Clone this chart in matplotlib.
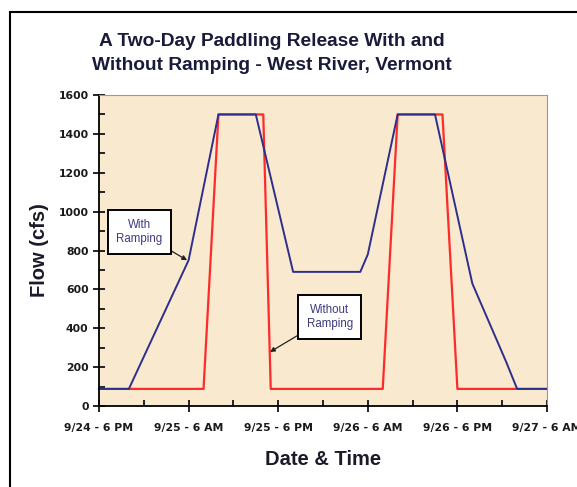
import numpy as np
import matplotlib.pyplot as plt
from matplotlib.patches import Rectangle

plt.rcParams['font.family'] = ['Liberation Sans', 'DejaVu Sans']

# hours after 9/24 6 PM
ramp_hours = [0, 4, 12, 16, 21, 26, 35, 36, 40, 45, 50, 54.5, 56, 60]
ramp_flow = [88, 88, 750, 1500, 1500, 690, 690, 780, 1500, 1500, 630, 230, 88, 88]

noramp_hours = [0, 14, 16, 22, 23, 38, 40, 46, 48, 60]
noramp_flow = [88, 88, 1500, 1500, 88, 88, 1500, 1500, 88, 88]

tick_labels = ["9/24 - 6 PM", "9/25 - 6 AM", "9/25 - 6 PM",
               "9/26 - 6 AM", "9/26 - 6 PM", "9/27 - 6 AM"]

fig = plt.figure(figsize=(5.77, 4.87), dpi=100)
fig.patch.set_facecolor("white")
# outer frame of the chart
fig.patches.append(Rectangle((10 / 577, -0.02), 1.0, 1 - 12 / 487 + 0.02,
                             transform=fig.transFigure, fill=False,
                             edgecolor="black", linewidth=1.5))

ax = fig.add_axes([99 / 577, 1 - 406 / 487, 448 / 577, 311 / 487])
ax.set_facecolor("#F9E9CE")

ax.plot(noramp_hours, noramp_flow, color="#FF2A2A", lw=1.6, clip_on=False)
ax.plot(ramp_hours, ramp_flow, color="#2E2F8C", lw=1.4, clip_on=False)

ax.set_xlim(0, 60)
ax.set_ylim(0, 1600)
ax.set_xticks(np.arange(0, 61, 12))
ax.set_xticks(np.arange(6, 60, 12), minor=True)
ax.set_xticklabels(tick_labels)
ax.set_yticks(np.arange(0, 1601, 200))
ax.set_yticks(np.arange(100, 1600, 200), minor=True)

for lab in ax.get_xticklabels() + ax.get_yticklabels():
    lab.set_fontweight("bold")
    lab.set_family("DejaVu Sans")
    lab.set_color("#1a1a1a")
ax.tick_params(axis="x", which="major", direction="inout", length=9, width=1.2,
               labelsize=7.8, pad=8)
ax.tick_params(axis="y", which="major", direction="inout", length=9, width=1.2,
               labelsize=7.8, pad=3)
ax.tick_params(which="minor", direction="in", length=4, width=1.2)

for side in ["top", "right"]:
    ax.spines[side].set_color("#999999")
    ax.spines[side].set_linewidth(0.8)
for side in ["left", "bottom"]:
    ax.spines[side].set_linewidth(1.3)

ax.set_xlabel("Date & Time", fontsize=14.5, fontweight="bold", color="#1a1a2a",
              labelpad=12)
ax.set_ylabel("Flow (cfs)", fontsize=14.5, fontweight="bold", color="#1a1a2a",
              labelpad=7)

fig.text(272 / 577, 1 - 41 / 487, "A Two-Day Paddling Release With and",
         ha="center", va="center", fontsize=13.8, fontweight="bold", color="#1a1a3a")
fig.text(272 / 577, 1 - 65 / 487, "Without Ramping - West River, Vermont",
         ha="center", va="center", fontsize=13.8, fontweight="bold", color="#1a1a3a")

box = dict(boxstyle="square,pad=0.75", facecolor="white", edgecolor="black", lw=1.4)
ax.annotate("With\nRamping", xy=(11.8, 750), xytext=(5.4, 895),
            ha="center", va="center", fontsize=8.3, color="#3f3a80",
            linespacing=1.25,
            bbox=box, arrowprops=dict(arrowstyle="-|>", color="#222222", lw=0.9,
                                      mutation_scale=7, shrinkA=0, shrinkB=0,
                                      relpos=(0.98, 0.0)))
ax.annotate("Without\nRamping", xy=(22.9, 278), xytext=(30.9, 458),
            ha="center", va="center", fontsize=8.3, color="#3f3a80",
            linespacing=1.25,
            bbox=box, arrowprops=dict(arrowstyle="-|>", color="#222222", lw=0.9,
                                      mutation_scale=7, shrinkA=0, shrinkB=0,
                                      relpos=(0.0, 0.0)))

fig.savefig("out.png", dpi=100)
